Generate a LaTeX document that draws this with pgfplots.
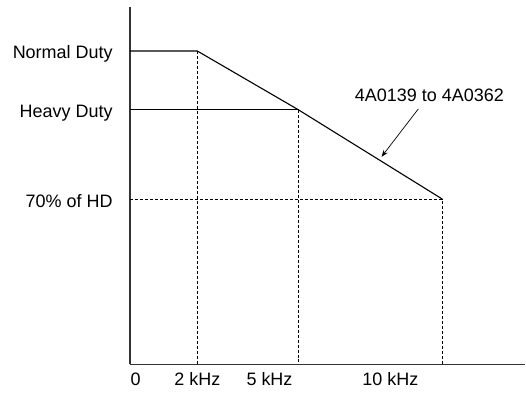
\documentclass[border=0pt]{standalone}
\usepackage{pgfplots}
\pgfplotsset{compat=1.18}
\usepackage{fontspec}
\setmainfont{Liberation Sans}
\usetikzlibrary{arrows.meta}

\begin{document}
\begin{tikzpicture}[font=\fontsize{18bp}{21bp}\selectfont]
	\begin{axis}[
		scale only axis,
		width=396bp, height=358.3bp,
		xmin=0, xmax=11.72,
		ymin=14.35, ymax=134.7,
		axis x line*=bottom, axis y line*=left,
		axis line style={black!80, line width=1.5bp},
		major tick length=0pt,
		xtick={0.17,2,4.14,7.72},
		xticklabels={0,2 kHz,5 kHz,10 kHz},
		xticklabel style={anchor=base, inner sep=0pt, yshift=-21bp},
		ytick={70,100,119.8},
		yticklabels={70\% of HD,Heavy Duty,Normal Duty},
		yticklabel style={anchor=base east, inner sep=0pt, xshift=-17bp, yshift=-8bp},
		clip=false,
	]
		% rating curve
		\addplot[black, line width=1.1bp] coordinates {
			(0,119.8)(2,119.8)(5,100)(9.26,70)
		};
		\addplot[black, line width=1.1bp] coordinates {
			(0,100)(5,100)
		};
		% dashed guides
		\addplot[black, line width=0.7bp, dash pattern=on 3bp off 2bp] coordinates {
			(2,119.8)(2,14.35)
		};
		\addplot[black, line width=0.7bp, dash pattern=on 3bp off 2bp] coordinates {
			(5,100)(5,14.35)
		};
		\addplot[black, line width=0.7bp, dash pattern=on 3bp off 2bp] coordinates {
			(0,70)(9.26,70)(9.26,14.35)
		};
		% annotation
		\draw[-{Stealth[length=7bp,width=5bp]}, line width=0.7bp] (axis cs:8.55,100.3) -- (axis cs:7.46,84.2);
		\node[anchor=base, inner sep=0pt] at (axis cs:8.88,102.7) {4A0139 to 4A0362};
		% page extent
		\path (rel axis cs:-0.3283,-0.0837) rectangle (rel axis cs:1,1.0187);
	\end{axis}
\end{tikzpicture}
\end{document}
